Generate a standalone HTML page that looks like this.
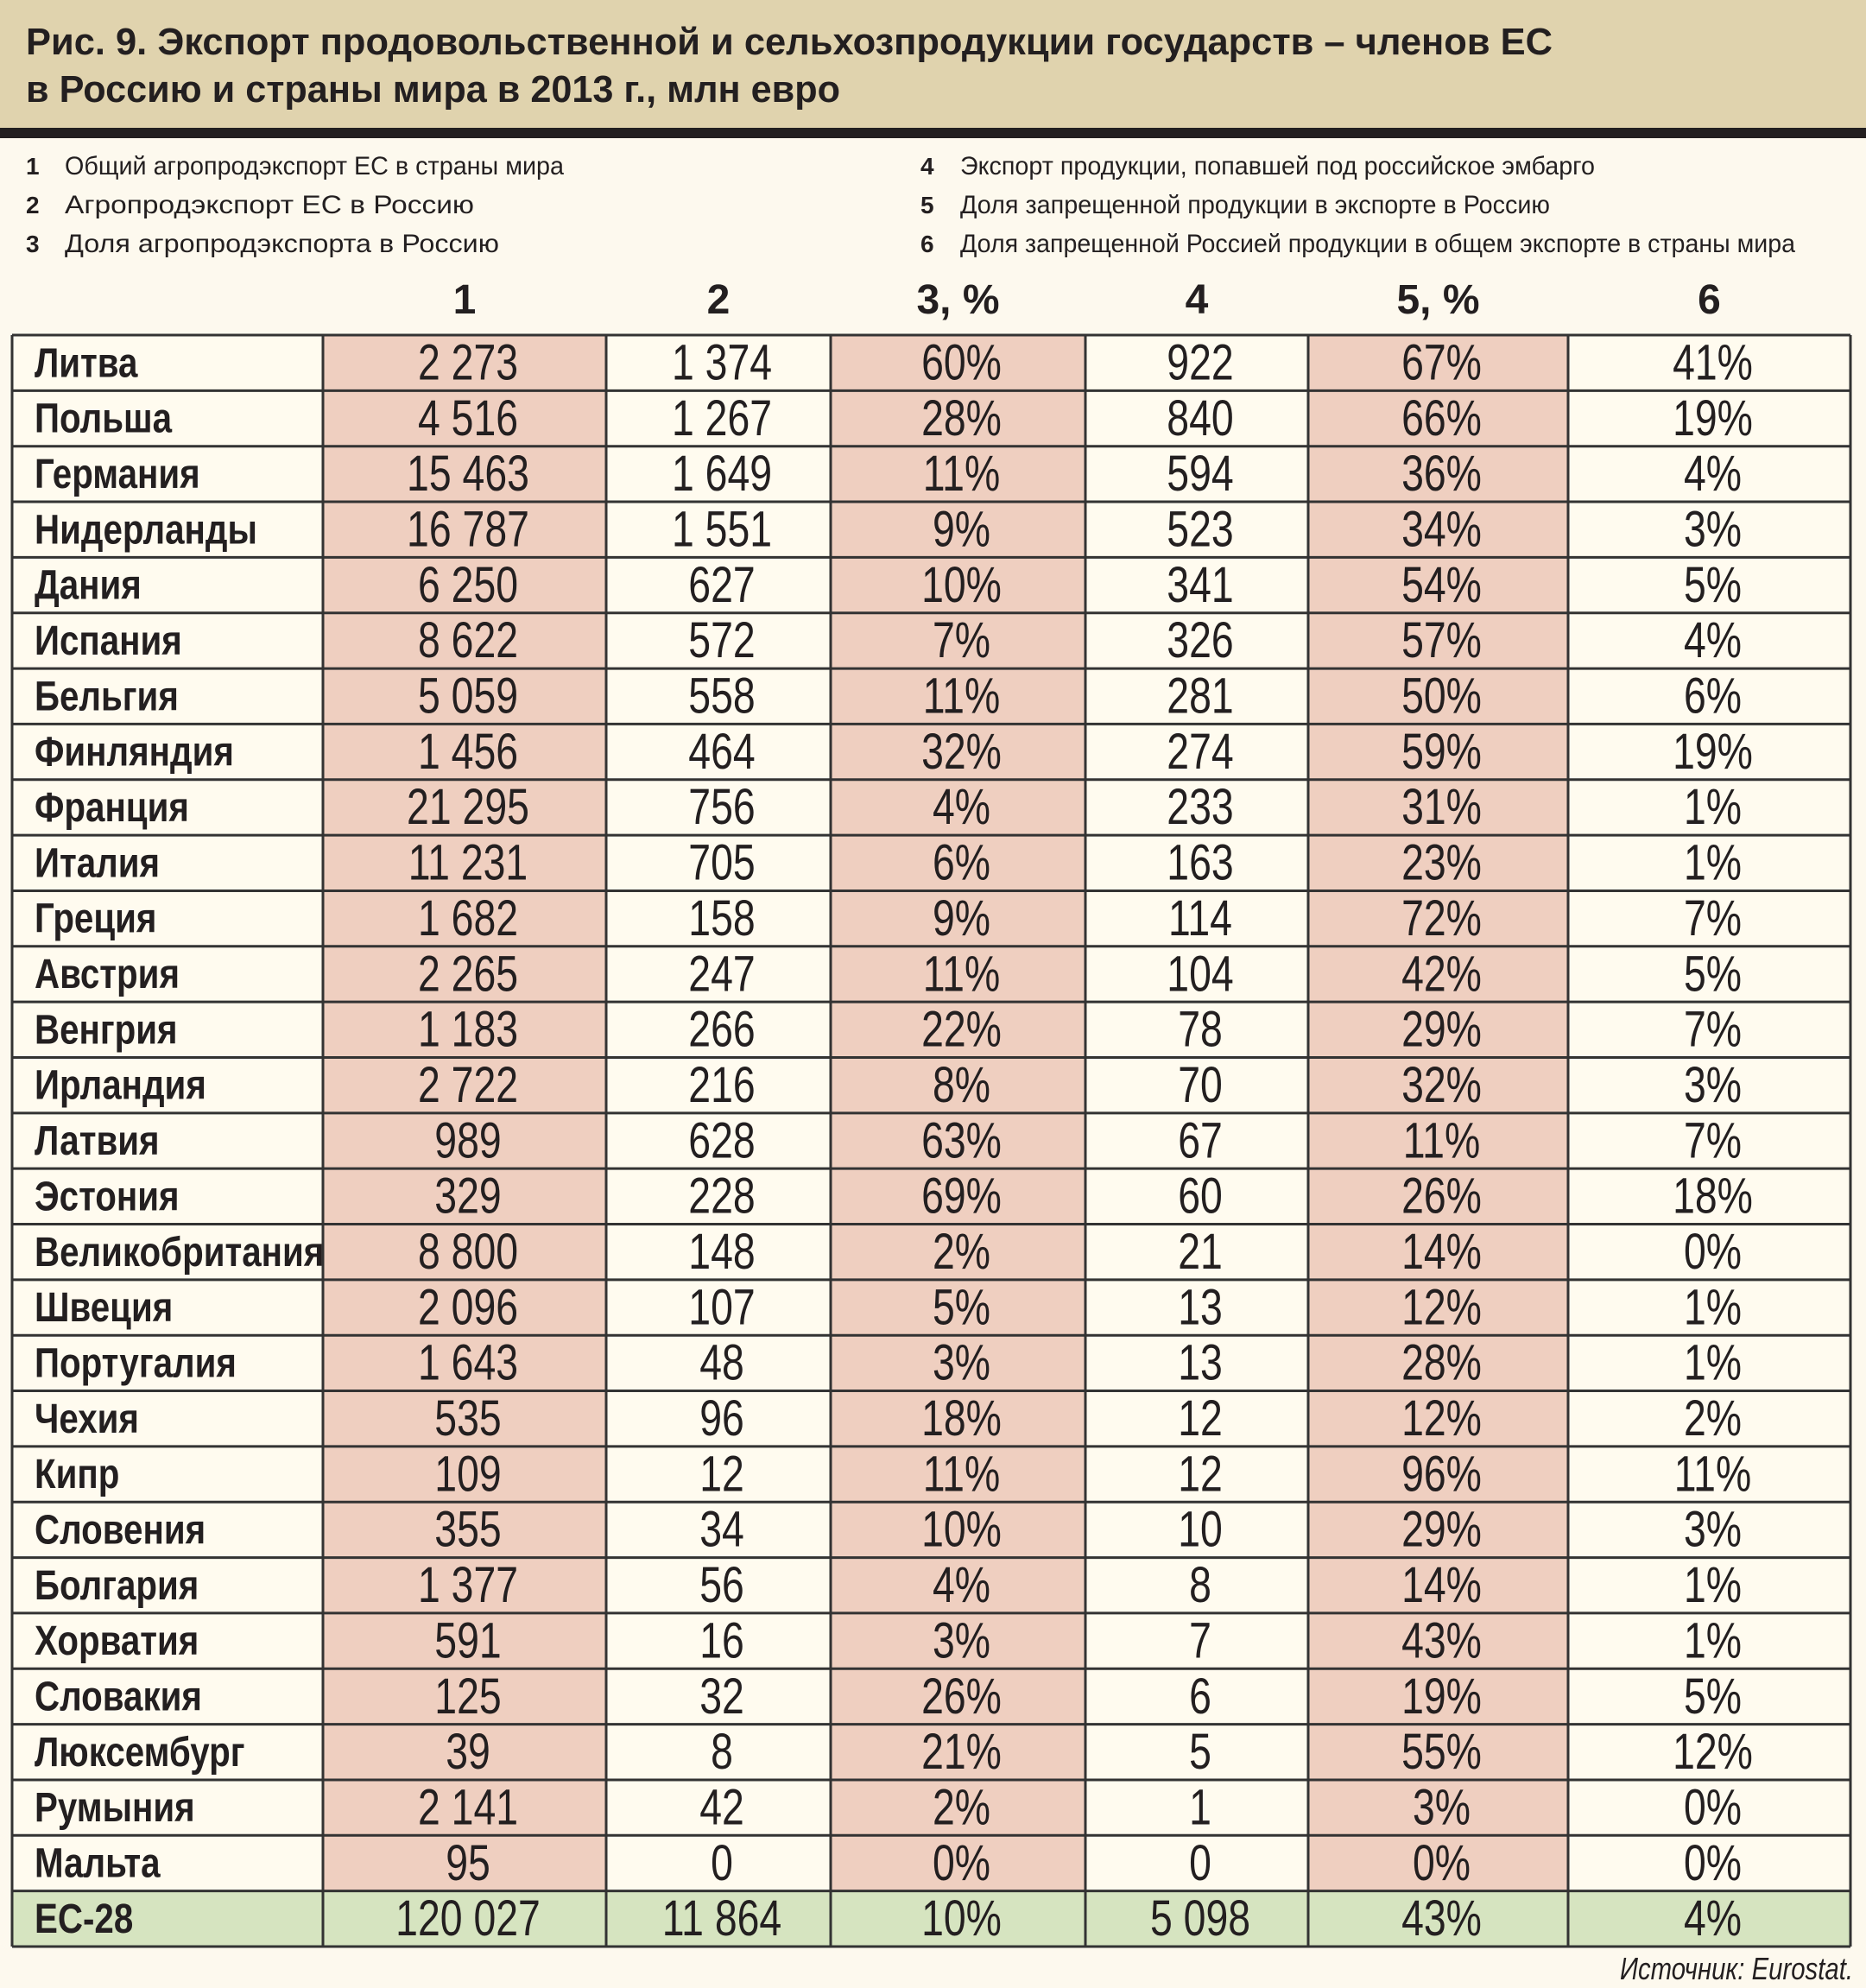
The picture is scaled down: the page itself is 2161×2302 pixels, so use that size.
<!DOCTYPE html>
<html><head><meta charset="utf-8"><style>
html,body{margin:0;padding:0;background:#fdf9ee;}
svg{display:block;}
text{font-family:"Liberation Sans","DejaVu Sans",sans-serif;}
</style></head><body>
<svg id="s" width="2161" height="2302" viewBox="0 0 2161 2302" xmlns="http://www.w3.org/2000/svg">
<rect x="0" y="0" width="2161" height="2302" fill="#fdf9ee"/>
<rect x="0" y="0" width="2161" height="148" fill="#e0d3ae"/>
<rect x="0" y="148" width="2161" height="12" fill="#231f20"/>
<text x="30" y="63" font-size="44" font-weight="bold" fill="#231f20" textLength="1768" lengthAdjust="spacingAndGlyphs">Рис. 9. Экспорт продовольственной и сельхозпродукции государств – членов ЕС</text>
<text x="30" y="118" font-size="44" font-weight="bold" fill="#231f20" textLength="943" lengthAdjust="spacingAndGlyphs">в Россию и страны мира в 2013 г., млн евро</text>
<g id="legend"></g>
<g id="tbl"></g>
<text x="2146" y="2292" font-size="36" font-style="italic" fill="#231f20" text-anchor="end" textLength="270" lengthAdjust="spacingAndGlyphs">Источник: Eurostat.</text>
</svg>
<script>
const NS="http://www.w3.org/2000/svg";
const countries=["Литва","Польша","Германия","Нидерланды","Дания","Испания","Бельгия","Финляндия","Франция","Италия","Греция","Австрия","Венгрия","Ирландия","Латвия","Эстония","Великобритания","Швеция","Португалия","Чехия","Кипр","Словения","Болгария","Хорватия","Словакия","Люксембург","Румыния","Мальта","ЕС-28"];
const col1=["2 273","4 516","15 463","16 787","6 250","8 622","5 059","1 456","21 295","11 231","1 682","2 265","1 183","2 722","989","329","8 800","2 096","1 643","535","109","355","1 377","591","125","39","2 141","95","120 027"];
const col2=["1 374","1 267","1 649","1 551","627","572","558","464","756","705","158","247","266","216","628","228","148","107","48","96","12","34","56","16","32","8","42","0","11 864"];
const col3=["60%","28%","11%","9%","10%","7%","11%","32%","4%","6%","9%","11%","22%","8%","63%","69%","2%","5%","3%","18%","11%","10%","4%","3%","26%","21%","2%","0%","10%"];
const col4=["922","840","594","523","341","326","281","274","233","163","114","104","78","70","67","60","21","13","13","12","12","10","8","7","6","5","1","0","5 098"];
const col5=["67%","66%","36%","34%","54%","57%","50%","59%","31%","23%","72%","42%","29%","32%","11%","26%","14%","12%","28%","12%","96%","29%","14%","43%","19%","55%","3%","0%","43%"];
const col6=["41%","19%","4%","3%","5%","4%","6%","19%","1%","1%","7%","5%","7%","3%","7%","18%","0%","1%","1%","2%","11%","3%","1%","1%","5%","12%","0%","0%","4%"];
const headers=["1","2","3, %","4","5, %","6"];
const legendItems=[["1","Общий агропродэкспорт ЕС в страны мира",578],["2","Агропродэкспорт ЕС в Россию",474],["3","Доля агропродэкспорта в Россию",503],["4","Экспорт продукции, попавшей под российское эмбарго",735],["5","Доля запрещенной продукции в экспорте в Россию",683],["6","Доля запрещенной Россией продукции в общем экспорте в страны мира",967]];

function mk(tag,attrs,parent,txt){const e=document.createElementNS(NS,tag);for(const k in attrs)e.setAttribute(k,attrs[k]);if(txt!==undefined)e.textContent=txt;parent.appendChild(e);return e;}

const lg=document.getElementById('legend');
legendItems.forEach((it,i)=>{
  const x=i<3?30:1066, tx=i<3?75:1112, y=202+(i%3)*45;
  const n=mk('text',{x:x,y:y,'font-size':28,'font-weight':'bold',fill:'#231f20'},lg,it[0]);
  
  
  const t=mk('text',{x:tx,y:y,'font-size':30,fill:'#231f20',textLength:it[2],lengthAdjust:'spacingAndGlyphs'},lg,it[1]);
  
  
});

const tb=document.getElementById('tbl');
const xs=[14,374,702,962,1257,1515,1816,2143];
const top0=388, rh=(2254-388)/countries.length;
const cols=[col1,col2,col3,col4,col5,col6];
const pink=[true,false,true,false,true,false];
headers.forEach((h,j)=>{
  const t=mk('text',{x:(xs[j+1]+xs[j+2])/2,y:363,'font-size':48,'font-weight':'bold',fill:'#231f20','text-anchor':'middle'},tb,h);
  
  
});
countries.forEach((c,i)=>{
  const y=top0+i*rh, last=i===countries.length-1;
  for(let j=0;j<7;j++){
    let fill='#fffbef';
    if(last) fill='#d6e4c0'; else if(j>0&&pink[j-1]) fill='#efcfc0';
    const r=mk('rect',{x:xs[j],y:y,width:xs[j+1]-xs[j],height:rh,fill:fill},tb);
    
    
  }
  const nm=mk('text',{x:0,y:0,'font-size':48,'font-weight':'bold',fill:'#231f20',transform:`translate(40,${y+rh*0.75}) scale(0.84,1)`},tb,c);
  
  
  cols.forEach((arr,j)=>{
    const cx=(xs[j+1]+xs[j+2])/2+4;
    const t=mk('text',{x:0,y:0,'font-size':58,fill:'#231f20','text-anchor':'middle',transform:`translate(${cx},${y+rh*0.8}) scale(0.8,1)`},tb,arr[i]);
    
    
  });
});
// grid lines
for(let i=0;i<=countries.length;i++){
  const y=top0+i*rh;
  const l=mk('line',{x1:xs[0],x2:xs[7],y1:y,y2:y,stroke:'#333',"stroke-width":3},tb);
  
  
}
xs.forEach(x=>{
  const l=mk('line',{x1:x,x2:x,y1:top0,y2:2254,stroke:'#333',"stroke-width":3},tb);
  
  
});
</script>
</body></html>
